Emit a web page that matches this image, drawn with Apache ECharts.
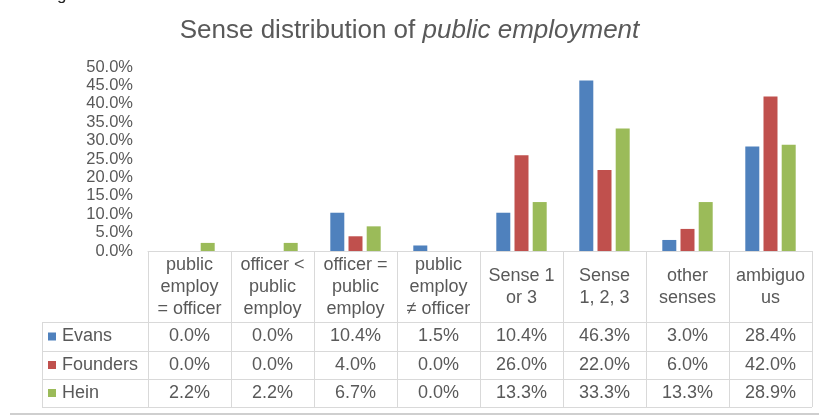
<!DOCTYPE html>
<html><head><meta charset="utf-8">
<script src="https://cdn.jsdelivr.net/npm/echarts@6/dist/echarts.min.js"></script>
<style>html,body{margin:0;padding:0;background:#fff}#c{width:819px;height:417px}</style>
</head><body><div id="c"></div>
<script>
const categories = ['public\nemploy\n= officer','officer <\npublic\nemploy','officer =\npublic\nemploy','public\nemploy\n≠ officer','Sense 1\nor 3','Sense\n1, 2, 3','other\nsenses','ambiguo\nus'];
const seriesNames = ['Evans','Founders','Hein'];
const evans    = [0.0, 0.0, 10.4, 1.5, 10.4, 46.3, 3.0, 28.4];
const founders = [0.0, 0.0, 4.0, 0.0, 26.0, 22.0, 6.0, 42.0];
const hein     = [2.2, 2.2, 6.7, 0.0, 13.3, 33.3, 13.3, 28.9];
const yTicks = {min:0, max:50, interval:5};

const colors = ['#4F81BD','#C0504D','#9BBB59'];
const values = [evans, founders, hein];
const FONT = 'Liberation Sans, Arial, sans-serif';
const TXT = '#595959';
const LINE = '#d9d9d9';
const TFS = 18;

const chart = echarts.init(document.getElementById('c'), null, {renderer:'canvas'});
const option = {
  animation:false,
  title:{
    left:'center', top:13,
    text:'{a|Sense distribution of }{b|public employment}',
    textStyle:{fontWeight:'normal',rich:{
      a:{fontFamily:FONT,fontSize:26,fontWeight:'normal',color:TXT},
      b:{fontFamily:FONT,fontSize:26,fontWeight:'normal',color:TXT,fontStyle:'italic'}
    }}
  },
  grid:{left:148,right:7,top:67,bottom:166},
  xAxis:{
    type:'category', data:categories,
    axisLine:{lineStyle:{color:LINE}},
    axisTick:{show:false},
    axisLabel:{interval:0,margin:36,verticalAlign:'middle',lineHeight:22,fontSize:TFS,fontFamily:FONT,color:TXT}
  },
  yAxis:{
    type:'value', min:yTicks.min, max:yTicks.max, interval:yTicks.interval,
    splitLine:{show:false}, axisLine:{show:false}, axisTick:{show:false},
    axisLabel:{margin:15,fontSize:16.5,fontFamily:FONT,color:TXT,formatter:v=>v.toFixed(1)+'%'}
  },
  series: seriesNames.map((n,i)=>({
    name:n, type:'bar', data:values[i], barWidth:14, barGap:'30%',
    itemStyle:{color:colors[i]}
  }))
};
chart.setOption(option);

function buildTable(){
  const rect = chart.getModel().getComponent('grid').coordinateSystem.getRect();
  const x0 = rect.x, x1 = rect.x + rect.width, yAxisY = rect.y + rect.height;
  const cw = rect.width / categories.length;
  const rowTop = [322, 351, 379];
  const rowBot = 407;
  const legL = 42;
  const els = [];
  const hl = (xa,xb,y)=>els.push({type:'line',shape:{x1:xa,y1:y,x2:xb,y2:y},style:{stroke:LINE,lineWidth:1},silent:true});
  const vl = (x,ya,yb)=>els.push({type:'line',shape:{x1:x,y1:ya,x2:x,y2:yb},style:{stroke:LINE,lineWidth:1},silent:true});
  rowTop.forEach(y=>hl(legL,x1,y+0.5));
  hl(legL,x1,rowBot+0.5);
  vl(legL+0.5,rowTop[0],rowBot);
  for(let k=0;k<=categories.length;k++){ vl(Math.round(x0+k*cw)+0.5,yAxisY,rowBot); }
  seriesNames.forEach((n,i)=>{
    const yc = (rowTop[i] + (i<2?rowTop[i+1]:rowBot))/2;
    els.push({type:'rect',shape:{x:48,y:yc-4,width:8,height:8},style:{fill:colors[i]},silent:true});
    els.push({type:'text',x:62,y:yc,style:{text:n,font:TFS+'px '+FONT,fill:TXT,verticalAlign:'middle',align:'left'},silent:true});
    values[i].forEach((v,j)=>{
      const xc = chart.convertToPixel({xAxisIndex:0}, j);
      els.push({type:'text',x:xc,y:yc,style:{text:v.toFixed(1)+'%',font:TFS+'px '+FONT,fill:TXT,verticalAlign:'middle',align:'center'},silent:true});
    });
  });
  els.push({type:'line',shape:{x1:10,y1:414,x2:819,y2:414},style:{stroke:'#cfcfcf',lineWidth:2},silent:true});
  els.push({type:'text',x:57,y:-13,style:{text:'g',font:'17px '+FONT,fill:'#222'},silent:true});
  chart.setOption({graphic:{elements:els}});
}
buildTable();
</script>
</body></html>
